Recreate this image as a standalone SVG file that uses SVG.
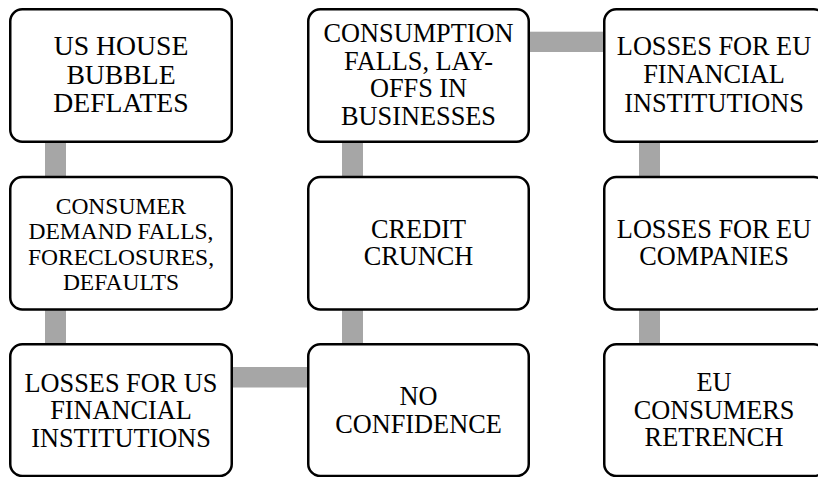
<svg xmlns="http://www.w3.org/2000/svg" width="818" height="477" viewBox="0 0 818 477" font-family="Liberation Serif, serif">
<style>
.box{fill:#ffffff;stroke:#000000;stroke-width:2.5}
.conn{fill:#a6a6a6;stroke:none}
.lbl{fill:#000000;text-anchor:middle}
.t{font-size:26.3px}
.tl{font-size:27.7px}
.ts{font-size:23.5px}
</style>
<rect width="818" height="477" fill="#ffffff"/>
<g id="connectors">
<rect class="conn" x="45" y="142" width="21" height="36"/>
<rect class="conn" x="45" y="309" width="21" height="36"/>
<rect class="conn" x="231" y="367" width="78" height="20.5"/>
<rect class="conn" x="342" y="309" width="21" height="36"/>
<rect class="conn" x="342" y="142" width="21" height="36"/>
<rect class="conn" x="528" y="31.7" width="77" height="20.3"/>
<rect class="conn" x="639" y="142" width="21" height="36"/>
<rect class="conn" x="639" y="309" width="21" height="36"/>
</g>
<g id="node-us-house">
<rect class="box" x="10.25" y="9.25" width="221.5" height="132.5" rx="12"/>
<text class="lbl tl" x="121" y="55">US HOUSE</text>
<text class="lbl tl" x="121" y="83.5">BUBBLE</text>
<text class="lbl tl" x="121" y="112">DEFLATES</text>
</g>
<g id="node-consumer-demand">
<rect class="box" x="10.25" y="177" width="221.5" height="132.5" rx="12"/>
<text class="lbl ts" x="121" y="214">CONSUMER</text>
<text class="lbl ts" x="121" y="239.3">DEMAND FALLS,</text>
<text class="lbl ts" x="121" y="264.6">FORECLOSURES,</text>
<text class="lbl ts" x="121" y="290">DEFAULTS</text>
</g>
<g id="node-losses-us">
<rect class="box" x="10.25" y="344.25" width="221.5" height="131.75" rx="12"/>
<text class="lbl t" x="121" y="391.5">LOSSES FOR US</text>
<text class="lbl t" x="121" y="419">FINANCIAL</text>
<text class="lbl t" x="121" y="446.5">INSTITUTIONS</text>
</g>
<g id="node-no-confidence">
<rect class="box" x="308.25" y="344.25" width="220.5" height="131.75" rx="12"/>
<text class="lbl t" x="418.5" y="405">NO</text>
<text class="lbl t" x="418.5" y="433">CONFIDENCE</text>
</g>
<g id="node-credit-crunch">
<rect class="box" x="308.25" y="177" width="220.5" height="132.5" rx="12"/>
<text class="lbl t" x="418.5" y="238.3">CREDIT</text>
<text class="lbl t" x="418.5" y="265">CRUNCH</text>
</g>
<g id="node-consumption-falls">
<rect class="box" x="308.25" y="9.25" width="220.5" height="132.5" rx="12"/>
<text class="lbl t" x="418.5" y="41.8">CONSUMPTION</text>
<text class="lbl t" x="418.5" y="69.6">FALLS, LAY-</text>
<text class="lbl t" x="418.5" y="97.4">OFFS IN</text>
<text class="lbl t" x="418.5" y="125.2">BUSINESSES</text>
</g>
<g id="node-losses-eu-fin">
<rect class="box" x="604.25" y="9.25" width="221.5" height="132.5" rx="12"/>
<text class="lbl t" x="714" y="55">LOSSES FOR EU</text>
<text class="lbl t" x="714" y="83.3">FINANCIAL</text>
<text class="lbl t" x="714" y="111.7">INSTITUTIONS</text>
</g>
<g id="node-losses-eu-companies">
<rect class="box" x="604.25" y="177" width="221.5" height="132.5" rx="12"/>
<text class="lbl t" x="714" y="238.3">LOSSES FOR EU</text>
<text class="lbl t" x="714" y="265">COMPANIES</text>
</g>
<g id="node-eu-consumers">
<rect class="box" x="604.25" y="344.25" width="221.5" height="131.75" rx="12"/>
<text class="lbl t" x="714" y="391.2">EU</text>
<text class="lbl t" x="714" y="418.7">CONSUMERS</text>
<text class="lbl t" x="714" y="446.2">RETRENCH</text>
</g>
</svg>
